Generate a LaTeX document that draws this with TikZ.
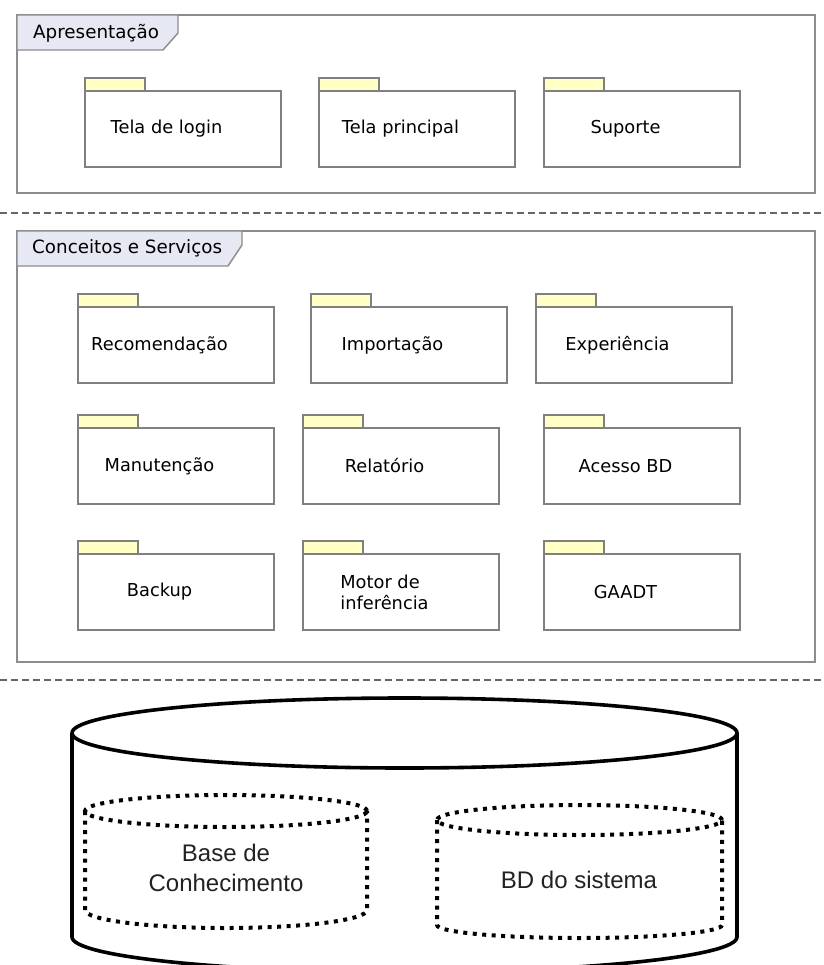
\documentclass[tikz,border=0pt]{standalone}
\usepackage{fontspec}
\newfontfamily\pkgfont{DejaVu Sans}
\newfontfamily\dbfont{Liberation Sans}
\definecolor{framegray}{HTML}{8C8C8C}
\definecolor{framefill}{HTML}{E6E8F4}
\definecolor{pkggray}{HTML}{808080}
\definecolor{pkgtabfill}{HTML}{FFFFC6}
\definecolor{sepgray}{HTML}{666666}
\definecolor{dbtext}{HTML}{222222}
\tikzset{
  layerframe/.style={draw=framegray, line width=1.4pt, anchor=north west,
    inner sep=0pt, outer sep=0pt},
  layertab/.style={draw=framegray, fill=framefill, line width=1.4pt, line join=miter},
  layerlabel/.style={anchor=west, inner sep=0pt, font=\pkgfont\fontsize{18.3}{22}\selectfont},
  pkgbody/.style={draw=pkggray, fill=white, line width=1.4pt, anchor=north west,
    minimum width=196pt, minimum height=76pt, inner sep=0pt, outer sep=0pt},
  pkgtab/.style={draw=pkggray, fill=pkgtabfill, line width=1.4pt, anchor=south west,
    minimum width=60pt, minimum height=13pt, inner sep=0pt, outer sep=0pt},
  pkgtext/.style={inner sep=0pt, align=left, font=\pkgfont\fontsize{17.8}{21}\selectfont},
  separator/.style={draw=sepgray, line width=1.4pt, dash pattern=on 7pt off 4pt},
  dbouter/.style={draw=black, line width=3.6pt, line join=round},
  dbinner/.style={draw=black, line width=4pt, dash pattern=on 4pt off 5.5pt},
  dblabel/.style={inner sep=0pt, align=center, text=dbtext,
    font=\dbfont\fontsize{24}{30}\selectfont},
}
% package: name, left, top, label
\newcommand\pkgnode[4]{%
  \node[pkgbody] (#1) at (#2,#3) {};
  \node[pkgtab] (#1tab) at (#1.north west) {};
  \node[pkgtext] (#1txt) at ([xshift=-16.5pt]#1.center) {#4};
}
\begin{document}
\begin{tikzpicture}[x=1pt,y=-1pt]
\useasboundingbox (0,0) rectangle (823,965);
\fill[white] (0,0) rectangle (823,965);
\clip (0,0) rectangle (823,965);

% presentation layer
\node[layerframe, minimum width=798pt, minimum height=178pt] (apres) at (17,15) {};
\draw[layertab] (17,15) -- (178,15) -- (178,33) -- (163,50) -- (17,50) -- cycle;
\node[layerlabel] (apreslbl) at (33,33) {Apresentação};
\pkgnode{login}{85}{91}{Tela de login}
\pkgnode{principal}{319}{91}{Tela principal}
\pkgnode{suporte}{544}{91}{Suporte}

\draw[separator] (0,213) -- (823,213);

% concepts and services layer
\node[layerframe, minimum width=798pt, minimum height=431pt] (servicos) at (17,231) {};
\draw[layertab] (17,231) -- (242,231) -- (242,245) -- (228,266) -- (17,266) -- cycle;
\node[layerlabel] (servicoslbl) at (32,248) {Conceitos e Serviços};
\pkgnode{recom}{78}{307}{Recomendação}
\pkgnode{import}{311}{307}{Importação}
\pkgnode{exper}{536}{307}{Experiência}
\pkgnode{manut}{78}{428}{Manutenção}
\pkgnode{relat}{303}{428}{Relatório}
\pkgnode{acesso}{544}{428}{Acesso BD}
\pkgnode{backup}{78}{554}{Backup}
\pkgnode{motor}{303}{554}{Motor de\\inferência}
\pkgnode{gaadt}{544}{554}{GAADT}

\draw[separator] (0,680) -- (823,680);

% storage cylinder (radii in pt are canvas lengths, so 180->360 runs along the bottom)
\draw[dbouter, fill=white] (72,733) -- (72,937)
  arc[start angle=180, end angle=360, x radius=332.5pt, y radius=35pt] -- (737,733);
\draw[dbouter] (404.5,733) ellipse [x radius=332.5pt, y radius=35pt];

% knowledge base
\draw[dbinner] (226,811) ellipse [x radius=141pt, y radius=16pt];
\draw[dbinner] (85,811) -- (85,910)
  arc[start angle=180, end angle=360, x radius=141pt, y radius=18pt] -- (367,811);
\node[dblabel] (kb) at (226,868) {Base de\\Conhecimento};

% system database
\draw[dbinner] (579.5,820) ellipse [x radius=142.5pt, y radius=15pt];
\draw[dbinner] (437,820) -- (437,925)
  arc[start angle=180, end angle=360, x radius=142.5pt, y radius=13pt] -- (722,820);
\node[dblabel] (bdsis) at (579,880) {BD do sistema};
\end{tikzpicture}
\end{document}
